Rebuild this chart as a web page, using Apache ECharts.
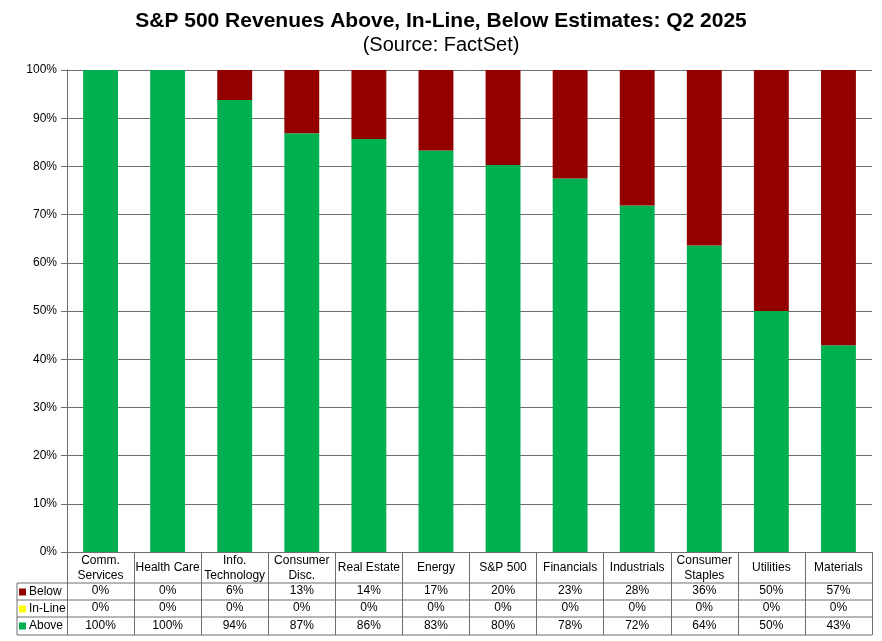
<!DOCTYPE html>
<html>
<head>
<meta charset="utf-8">
<script src="https://cdn.jsdelivr.net/npm/echarts@6/dist/echarts.min.js"></script>
<style>
  html, body { margin: 0; padding: 0; background: #fff; }
  #main { width: 882px; height: 641px; }
</style>
</head>
<body>
<div id="main"></div>
<script>
// 数据
var categories = ['Comm.\nServices', 'Health Care', 'Info.\nTechnology', 'Consumer\nDisc.', 'Real Estate',
    'Energy', 'S&P 500', 'Financials', 'Industrials', 'Consumer\nStaples', 'Utilities', 'Materials'];
var below = [0, 0, 6.2, 13.1, 14.3, 16.7, 19.7, 22.5, 28.1, 36.4, 50, 57.1];
var inLine = [0, 0, 0, 0, 0, 0, 0, 0, 0, 0, 0, 0];
var above = [100, 100, 93.8, 86.9, 85.7, 83.3, 80.3, 77.5, 71.9, 63.6, 50, 42.9];
var yTicks = [0, 10, 20, 30, 40, 50, 60, 70, 80, 90, 100];

(function () {
    var myChart = echarts.init(document.getElementById('main'));
    var font = 'Liberation Sans, Arial, sans-serif';
    var lineColor = '#6e6e6e';

    // 表格里的一行：用额外的 x 轴把数值放在每个类目下面
    function rowAxis(values, margin) {
        return {
            type: 'category',
            data: categories,
            position: 'bottom',
            axisLine: { show: false },
            axisTick: { show: false },
            axisLabel: {
                margin: margin,
                verticalAlign: 'middle',
                interval: 0,
                color: '#000',
                fontFamily: font,
                fontSize: 12,
                formatter: function (v, i) { return Math.round(values[i]) + '%'; }
            }
        };
    }

    var option = {
        animation: false,
        textStyle: { fontFamily: font },
        title: {
            text: 'S&P 500 Revenues Above, In-Line, Below Estimates: Q2 2025',
            subtext: '(Source: FactSet)',
            left: 'center',
            top: 6,
            itemGap: 3,
            textStyle: { fontSize: 21, fontWeight: 'bold', color: '#000', fontFamily: font },
            subtextStyle: { fontSize: 20, color: '#000', fontFamily: font }
        },
        legend: {
            data: ['Below', 'In-Line', 'Above'],
            orient: 'vertical',
            left: 19,
            top: 585,
            padding: 0,
            icon: 'rect',
            itemWidth: 7,
            itemHeight: 7,
            itemGap: 3,
            selectedMode: false,
            textStyle: { fontSize: 12, lineHeight: 14, color: '#000', fontFamily: font, padding: [0, 0, 0, -2] }
        },
        grid: { left: 67, right: 10, top: 70, bottom: 89 },
        xAxis: [
            {
                type: 'category',
                data: categories,
                axisLine: { lineStyle: { color: lineColor } },
                axisTick: { show: true, length: 83, lineStyle: { color: lineColor } },
                axisLabel: {
                    margin: 16,
                    verticalAlign: 'middle',
                    interval: 0,
                    color: '#000',
                    fontSize: 12,
                    lineHeight: 15,
                    fontFamily: font
                }
            },
            rowAxis(below, 39),
            rowAxis(inLine, 56),
            rowAxis(above, 74)
        ],
        yAxis: {
            type: 'value',
            min: yTicks[0],
            max: yTicks[yTicks.length - 1],
            interval: 10,
            axisLine: { show: true, lineStyle: { color: lineColor } },
            axisTick: { show: true, length: 6, lineStyle: { color: lineColor } },
            splitLine: { lineStyle: { color: lineColor } },
            axisLabel: { formatter: '{value}%', color: '#000', fontSize: 12, margin: 10, fontFamily: font }
        },
        series: [
            {
                name: 'Above', type: 'bar', stack: 'all', barWidth: '52%',
                itemStyle: { color: '#00B050' }, data: above
            },
            {
                name: 'In-Line', type: 'bar', stack: 'all', barWidth: '52%',
                itemStyle: { color: '#FFFF00' }, data: inLine
            },
            {
                name: 'Below', type: 'bar', stack: 'all', barWidth: '52%',
                itemStyle: { color: '#920000' }, data: below
            }
        ]
    };

    myChart.setOption(option);

    // 表格横线和左边框
    var x0 = 17, x1 = 872, rows = [583, 600, 617, 635];
    var lines = rows.map(function (y) {
        return { type: 'line', shape: { x1: x0, y1: y, x2: x1, y2: y }, style: { stroke: lineColor, lineWidth: 1 } };
    });
    lines.push({ type: 'line', shape: { x1: x0, y1: rows[0], x2: x0, y2: rows[3] }, style: { stroke: lineColor, lineWidth: 1 } });
    myChart.setOption({ graphic: lines });
})();
</script>
</body>
</html>
